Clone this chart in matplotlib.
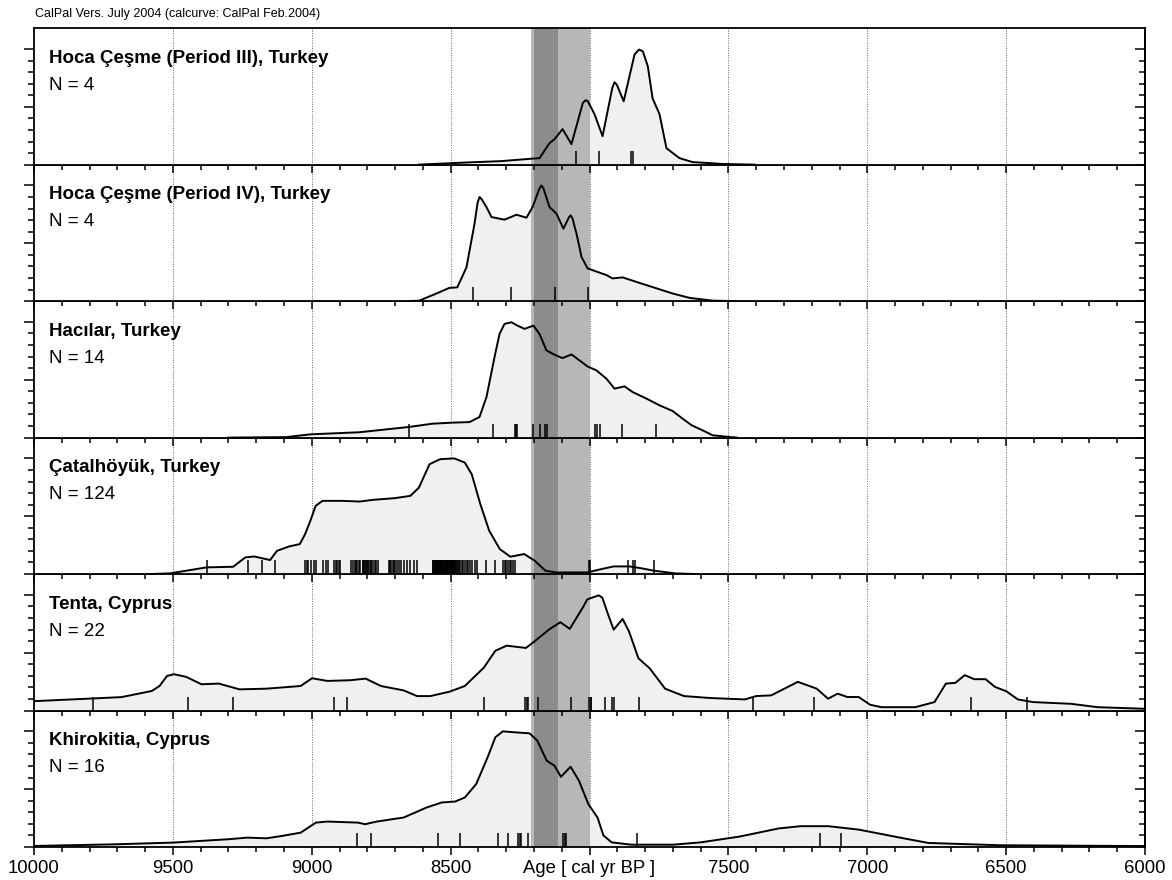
import matplotlib
matplotlib.use("Agg")
from matplotlib import pyplot as plt
from matplotlib.ticker import MultipleLocator, FixedLocator

plt.rcParams['font.family'] = ['Liberation Sans', 'DejaVu Sans']

titles = ["Hoca Çeşme (Period III), Turkey", "Hoca Çeşme (Period IV), Turkey",
          "Hacılar, Turkey", "Çatalhöyük, Turkey", "Tenta, Cyprus", "Khirokitia, Cyprus"]
counts = [4, 4, 14, 124, 22, 16]

# summed calibrated probability, normalised to the highest peak of each site
p1_age = [8615, 8430, 8320, 8216, 8180, 8144, 8126, 8097, 8065, 8024, 8014, 8006, 7982, 7953, 7918,
          7910, 7902, 7877, 7838, 7822, 7808, 7790, 7773, 7748, 7723, 7676, 7629, 7568, 7521, 7405]
p1_dens = [0.0, 0.02, 0.03, 0.05, 0.056, 0.186, 0.22, 0.307, 0.177, 0.534, 0.557, 0.548, 0.436, 0.246, 0.663,
           0.712, 0.693, 0.548, 0.952, 0.995, 0.98, 0.849, 0.574, 0.436, 0.142, 0.056, 0.022, 0.013, 0.006, 0.0]
p1_dates = [8048, 7967, 7850, 7842]

p2_age = [8650, 8613, 8541, 8505, 8476, 8443, 8414, 8403, 8396, 8388, 8371, 8353, 8306, 8263, 8227, 8205,
          8180, 8173, 8166, 8144, 8119, 8094, 8074, 8068, 8062, 8047, 8029, 8007, 7939, 7917, 7881, 7795,
          7701, 7640, 7557, 7480]
p2_dens = [0.0, 0.004, 0.076, 0.114, 0.119, 0.292, 0.669, 0.85, 0.90, 0.88, 0.813, 0.727, 0.704, 0.747, 0.721,
           0.813, 0.975, 1.0, 0.975, 0.813, 0.756, 0.626, 0.725, 0.741, 0.72, 0.585, 0.383, 0.283, 0.225, 0.196,
           0.205, 0.138, 0.066, 0.028, 0.004, 0.0]
p2_dates = [8420, 8282, 8126, 8006]

p3_age = [9300, 9092, 9005, 8829, 8649, 8566, 8494, 8432, 8396, 8371, 8342, 8324, 8306, 8281, 8259,
          8234, 8202, 8180, 8155, 8126, 8097, 8065, 8036, 8007, 7975, 7939, 7910, 7874, 7845, 7795,
          7748, 7701, 7665, 7632, 7593, 7557, 7495, 7470]
p3_dens = [0.0, 0.004, 0.028, 0.046, 0.092, 0.12, 0.129, 0.134, 0.178, 0.35, 0.696, 0.896, 0.983, 0.997, 0.968,
           0.94, 0.968, 0.896, 0.754, 0.716, 0.687, 0.719, 0.667, 0.615, 0.581, 0.509, 0.423, 0.443, 0.394, 0.337,
           0.279, 0.23, 0.164, 0.106, 0.063, 0.02, 0.005, 0.0]
p3_dates = [8649, 8349, 8270, 8266, 8262, 8204, 8180, 8159, 8154, 7982, 7974, 7964, 7884, 7760]

p4_age = [9586, 9510, 9378, 9283, 9239, 9207, 9150, 9125, 9081, 9043, 9024, 9005, 8986, 8961, 8891,
          8828, 8778, 8702, 8645, 8614, 8576, 8538, 8487, 8449, 8424, 8393, 8361, 8323, 8285, 8235,
          8197, 8159, 8121, 8008, 7957, 7913, 7856, 7818, 7768, 7692, 7616]
p4_dens = [0.0, 0.006, 0.058, 0.063, 0.144, 0.152, 0.121, 0.201, 0.239, 0.259, 0.345, 0.46, 0.59, 0.633, 0.633,
           0.627, 0.642, 0.656, 0.676, 0.748, 0.95, 0.993, 1.0, 0.964, 0.863, 0.604, 0.374, 0.216, 0.15, 0.173,
           0.115, 0.029, 0.014, 0.014, 0.043, 0.066, 0.066, 0.052, 0.029, 0.006, 0.0]
p4_dates = [9378, 9229, 9179, 9134,
            9024, 9018, 9012, 9003, 8993, 8985, 8958, 8950, 8940,
            8919, 8914, 8908, 8903, 8898,
            8857, 8851, 8846, 8841, 8836, 8831, 8826,
            8816, 8814, 8811, 8808, 8806, 8801, 8798, 8796, 8791, 8788, 8786, 8780, 8774, 8768, 8762,
            8721, 8718, 8715, 8706, 8703, 8700, 8692, 8686, 8677, 8667, 8658, 8645, 8633, 8620,
            8565, 8563, 8560, 8557, 8555, 8552, 8550, 8548, 8546, 8544, 8542, 8540, 8538, 8536, 8534,
            8532, 8530, 8528, 8526, 8524, 8522, 8520, 8518, 8516, 8514, 8512, 8510, 8508, 8506, 8504,
            8502, 8500, 8498, 8496, 8494, 8492, 8490, 8488, 8486, 8484, 8482, 8478, 8474, 8470, 8465,
            8460, 8454, 8448, 8442, 8436, 8430, 8422, 8414, 8406,
            8374, 8342,
            8311, 8306, 8300, 8294, 8288, 8282, 8276, 8270,
            8003, 7998, 7862, 7843, 7837, 7768]

p5_age = [10000, 9782, 9685, 9576, 9548, 9521, 9496, 9452, 9397, 9335, 9260, 9163, 9040, 8999, 8944,
          8861, 8806, 8751, 8669, 8621, 8573, 8504, 8449, 8380, 8339, 8298, 8229, 8202, 8147, 8105,
          8071, 8023, 8008, 7967, 7954, 7933, 7913, 7881, 7858, 7824, 7783, 7728, 7660, 7564, 7441,
          7400, 7346, 7250, 7182, 7141, 7107, 7072, 7031, 6990, 6949, 6827, 6758, 6717, 6683, 6649,
          6615, 6574, 6540, 6499, 6458, 6403, 6266, 6171, 6000]
p5_dens = [0.081, 0.105, 0.116, 0.169, 0.212, 0.299, 0.314, 0.291, 0.227, 0.233, 0.183, 0.189, 0.212, 0.279, 0.256,
           0.262, 0.276, 0.212, 0.174, 0.125, 0.125, 0.163, 0.212, 0.372, 0.517, 0.561, 0.541, 0.59, 0.698, 0.764,
           0.706, 0.895, 0.961, 0.996, 0.976, 0.83, 0.699, 0.792, 0.685, 0.452, 0.364, 0.189, 0.125, 0.108, 0.096,
           0.125, 0.131, 0.248, 0.189, 0.102, 0.146, 0.117, 0.117, 0.05, 0.029, 0.029, 0.073, 0.233, 0.239, 0.306,
           0.271, 0.271, 0.204, 0.166, 0.096, 0.073, 0.058, 0.029, 0.015]
p5_dates = [9788, 9445, 9284, 8919, 8872, 8380, 8232, 8225, 8223, 8186, 8065, 8001, 7996, 7994,
            7946, 7919, 7913, 7823, 7410, 7193, 6628, 6424]

p6_age = [10000, 9713, 9500, 9301, 9232, 9163, 9109, 9040, 9012, 8985, 8944, 8834, 8808, 8766, 8669,
          8587, 8532, 8484, 8449, 8408, 8367, 8339, 8312, 8271, 8216, 8188, 8154, 8126, 8103, 8068,
          8038, 8004, 7971, 7950, 7920, 7850, 7700, 7600, 7460, 7320, 7240, 7140, 7030, 6880, 6780,
          6520, 6000]
p6_dens = [0.009, 0.023, 0.038, 0.067, 0.081, 0.075, 0.095, 0.124, 0.168, 0.211, 0.22, 0.211, 0.197, 0.22, 0.255,
           0.341, 0.385, 0.393, 0.428, 0.544, 0.775, 0.949, 1.0, 0.992, 0.983, 0.92, 0.746, 0.703, 0.607, 0.694,
           0.573, 0.37, 0.254, 0.10, 0.04, 0.02, 0.02, 0.04, 0.09, 0.16, 0.18, 0.18, 0.15, 0.08, 0.035,
           0.015, 0.008]
p6_dates = [8836, 8786, 8544, 8468, 8331, 8292, 8258, 8252, 8245, 8220, 8097, 8090, 8086, 7830, 7171, 7096]

ages = [p1_age, p2_age, p3_age, p4_age, p5_age, p6_age]
dens = [p1_dens, p2_dens, p3_dens, p4_dens, p5_dens, p6_dens]
dates = [p1_dates, p2_dates, p3_dates, p4_dates, p5_dates, p6_dates]

grid_years = [9500, 9000, 8500, 8000, 7500, 7000, 6500]
x_major = [10000, 9500, 9000, 8500, 8000, 7500, 7000, 6500, 6000]
x_labels = ["10000", "9500", "9000", "8500", "Age [ cal yr BP ]", "7500", "7000", "6500", "6000"]

fig = plt.figure(figsize=(11.72, 8.8), dpi=100)
axes = fig.subplots(6, 1, sharex=True, gridspec_kw={"hspace": 0})
fig.subplots_adjust(left=0.029, right=0.977, top=0.968, bottom=0.0375)

for i, ax in enumerate(axes):
    ax.set_zorder(10 - i)
    ax.set_xlim(10000, 6000)
    ax.set_ylim(0, 1.18)
    for g in grid_years:
        ax.axvline(g, color="#666666", lw=0.7, ls=(0, (1, 1.5)), zorder=0)
    ax.fill_between(ages[i], dens[i], 0, color="#f0f0f0", lw=0, zorder=1)
    ax.axvspan(8212, 8000, color="#b7b7b7", lw=0, zorder=2)
    ax.axvspan(8200, 8112, color="#8c8c8c", lw=0, zorder=2)
    ax.plot(ages[i], dens[i], color="black", lw=1.4, zorder=3)
    ax.vlines(dates[i], 0, 0.12, color="black", lw=1.1, zorder=3)
    ax.text(0.0135, 0.78, titles[i], transform=ax.transAxes, fontsize=13.5, fontweight="bold", va="center")
    ax.text(0.0135, 0.58, f"N = {counts[i]}", transform=ax.transAxes, fontsize=13.5, va="center")

    for s in ax.spines.values():
        s.set_linewidth(1.3)
    ax.yaxis.set_major_locator(FixedLocator([0, 0.5, 1.0]))
    ax.yaxis.set_minor_locator(FixedLocator([0.1, 0.2, 0.3, 0.4, 0.6, 0.7, 0.8, 0.9]))
    ax.tick_params(axis="y", which="both", direction="out", labelleft=False, width=1.1)
    ax.tick_params(axis="y", which="major", length=7)
    ax.tick_params(axis="y", which="minor", length=4)
    sec = ax.secondary_yaxis("right")
    sec.yaxis.set_major_locator(FixedLocator([0, 0.5, 1.0]))
    sec.yaxis.set_minor_locator(FixedLocator([0.1, 0.2, 0.3, 0.4, 0.6, 0.7, 0.8, 0.9]))
    sec.tick_params(which="both", direction="in", labelright=False, width=1.1)
    sec.tick_params(which="major", length=7)
    sec.tick_params(which="minor", length=4)
    sec.spines["right"].set_linewidth(1.3)

    ax.xaxis.set_minor_locator(MultipleLocator(100))
    ax.tick_params(axis="x", which="both", direction="out", width=1.1, top=False)
    ax.tick_params(axis="x", which="major", length=6, pad=3, labelsize=13.3)
    ax.tick_params(axis="x", which="minor", length=3.5)

axes[-1].set_xticks(x_major, x_labels)

fig.text(35 / 1172, 1 - 14 / 880, "CalPal Vers. July 2004 (calcurve: CalPal Feb.2004)",
         fontsize=9, va="center")

fig.savefig("out.png", dpi=100)
